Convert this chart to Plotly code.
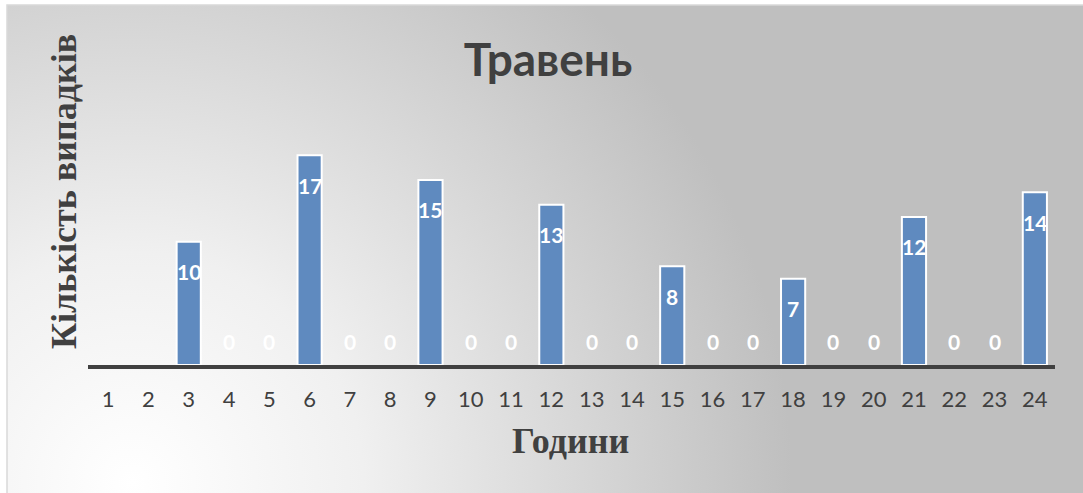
import base64
import plotly.graph_objects as go

hours = list(range(1, 25))
hour_labels = [str(h) for h in hours]
cases = [None, None, 10, 0, 0, 17, 0, 0, 15, 0, 0, 13, 0, 0, 8, 0, 0, 7, 0, 0, 12, 0, 0, 14]
title_text = "Травень"
x_title = "Години"
y_title = "Кількість випадків"

W, H = 1083, 493

# background radial gradient (chart area style)
svg = (
    '<svg xmlns="http://www.w3.org/2000/svg" width="1076" height="488" viewBox="0 0 1076 488" preserveAspectRatio="none">'
    '<defs><radialGradient id="g" gradientUnits="userSpaceOnUse" cx="125" cy="478" r="660">'
    '<stop offset="0" stop-color="#ffffff"/><stop offset="0.35" stop-color="#f0f0f0"/>'
    '<stop offset="1" stop-color="#bfbfbf"/></radialGradient></defs>'
    '<rect x="0" y="0" width="1076" height="488" fill="url(#g)"/></svg>'
)
src = "data:image/svg+xml;base64," + base64.b64encode(svg.encode()).decode()

outline_widths = [2 if v else 0 for v in cases]

fig = go.Figure()
fig.add_trace(go.Bar(
    x=hours, y=cases,
    marker=dict(color="#5F8ABF", line=dict(color="#ffffff", width=outline_widths)),
    width=0.6,
    hoverinfo="x+y",
))

annotations = []
for h, v in zip(hours, cases):
    if v is None:
        continue
    annotations.append(dict(
        x=h, y=v, xref="x", yref="y", text=str(v), showarrow=False,
        yshift=-30 if v > 0 else 24,
        font=dict(family="Lato, Carlito, Calibri, sans-serif", size=21, color="#ffffff", weight="bold"),
    ))

annotations.append(dict(
    x=570 / W, y=1 - 441 / H, xref="paper", yref="paper", text=x_title, showarrow=False,
    font=dict(family="Liberation Serif, Times New Roman, serif", size=36, color="#404040", weight="bold"),
    xanchor="center", yanchor="middle",
))
annotations.append(dict(
    x=64 / W, y=1 - 192 / H, xref="paper", yref="paper", text=y_title, showarrow=False,
    textangle=-90,
    font=dict(family="Liberation Serif, Times New Roman, serif", size=36, color="#404040", weight="bold"),
    xanchor="center", yanchor="middle",
))

fig.update_layout(
    width=W, height=H,
    margin=dict(l=0, r=0, t=0, b=0),
    paper_bgcolor="#ffffff",
    plot_bgcolor="rgba(0,0,0,0)",
    showlegend=False,
    title=dict(
        text=title_text, x=548 / W, y=1 - 60 / H, xanchor="center", yanchor="middle",
        font=dict(family="Lato, Carlito, Calibri, sans-serif", size=46, color="#404040", weight="bold"),
    ),
    xaxis=dict(
        domain=[88 / W, 1055 / W], range=[0.5, 24.5],
        tickmode="array", tickvals=hours, ticktext=hour_labels,
        showline=True, linecolor="#404040", linewidth=4,
        showgrid=False, zeroline=False, ticks="",
        ticklabelstandoff=12,
        tickfont=dict(family="Lato, Carlito, Calibri, sans-serif", size=22, color="#404040"),
    ),
    yaxis=dict(
        domain=[1 - 365 / H, 1 - 143 / H], range=[0, 18],
        visible=False, showgrid=False, zeroline=False,
    ),
    annotations=annotations,
    images=[dict(
        source=src, xref="paper", yref="paper",
        x=7 / W, y=1 - 5 / H, sizex=(W - 7) / W, sizey=(H - 5) / H,
        xanchor="left", yanchor="top", sizing="stretch", layer="below",
    )],
    shapes=[dict(
        type="rect", xref="paper", yref="paper",
        x0=7 / W, y0=-0.01, x1=1.01, y1=1 - 5 / H,
        line=dict(color="#d9d9d9", width=1.5), layer="below",
    )],
)

fig.write_html("out.html")
